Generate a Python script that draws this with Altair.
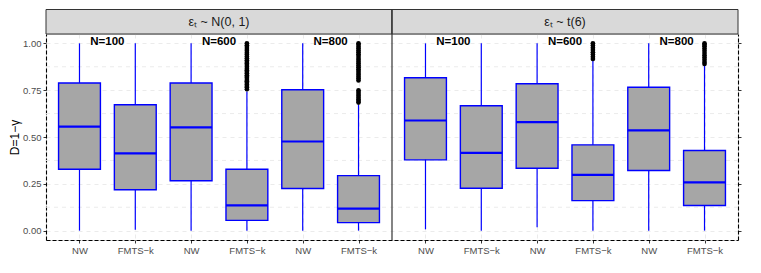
import altair as alt
import pandas as pd

# ---------------- data ----------------
panel_titles = ["εₜ ~ N(0, 1)", "εₜ ~ t(6)"]
methods = ["NW", "FMTS−k", "NW", "FMTS−k", "NW", "FMTS−k"]
sample_sizes = ["100", "100", "600", "600", "800", "800"]
slot = [1, 2, 3, 4, 5, 6]          # category slot inside a panel
panel_shift = [0.0, 6.2]           # slot offset of each panel (ggplot discrete expansion 0.6 on each side)

# panel 1: eps ~ N(0,1)
p1_lo = [0.000, 0.005, 0.000, 0.000, 0.000, 0.000]
p1_q1 = [0.328, 0.218, 0.266, 0.055, 0.225, 0.043]
p1_med = [0.555, 0.413, 0.551, 0.135, 0.476, 0.118]
p1_q3 = [0.788, 0.672, 0.788, 0.328, 0.752, 0.294]
p1_hi = [1.000, 1.000, 1.000, 0.743, 1.000, 0.672]
p1_out_fmts600 = [0.755, 0.765, 0.772, 0.780, 0.790, 0.798, 0.805, 0.815, 0.822,
                  0.830, 0.840, 0.848, 0.856, 0.865, 0.875, 0.884, 0.892, 0.900,
                  0.910, 0.920, 0.930, 0.940, 0.950, 0.960, 0.970, 0.980, 0.990, 1.000]
p1_out_fmts800 = [0.684, 0.692, 0.700, 0.710, 0.720, 0.730, 0.740, 0.749,
                  0.802, 0.812, 0.822, 0.832, 0.842, 0.852, 0.862, 0.872, 0.882,
                  0.892, 0.902, 0.912, 0.922, 0.932, 0.942, 0.952, 0.962, 0.972,
                  0.982, 0.992, 1.000]

# panel 2: eps ~ t(6)
p2_lo = [0.007, 0.000, 0.018, 0.000, 0.000, 0.000]
p2_q1 = [0.378, 0.226, 0.333, 0.160, 0.321, 0.134]
p2_med = [0.588, 0.415, 0.579, 0.298, 0.535, 0.258]
p2_q3 = [0.816, 0.667, 0.784, 0.458, 0.766, 0.428]
p2_hi = [1.000, 1.000, 1.000, 0.910, 1.000, 0.880]
p2_out_fmts600 = [0.917, 0.928, 0.940, 0.952, 0.964, 0.976, 0.988, 1.000]
p2_out_fmts800 = [0.890, 0.900, 0.912, 0.924, 0.936, 0.948, 0.960, 0.972, 0.984, 0.992, 1.000]

n_labels = ["N=100", "N=600", "N=800"]

major_ticks = [0.0, 0.25, 0.5, 0.75, 1.0]
minor_ticks = [0.125, 0.375, 0.625, 0.875]

# ---------------- tables ----------------
box_rows, out_rows, lab_rows, strip_rows = [], [], [], []
panels = [
    (p1_lo, p1_q1, p1_med, p1_q3, p1_hi, {3: p1_out_fmts600, 5: p1_out_fmts800}),
    (p2_lo, p2_q1, p2_med, p2_q3, p2_hi, {3: p2_out_fmts600, 5: p2_out_fmts800}),
]
for p, (lo, q1, med, q3, hi, outs) in enumerate(panels):
    for i in range(6):
        pos = slot[i] + panel_shift[p]
        box_rows.append({"pos": pos, "lo": lo[i], "q1": q1[i], "med": med[i], "q3": q3[i], "hi": hi[i]})
    for i, vals in outs.items():
        for v in vals:
            out_rows.append({"pos": slot[i] + panel_shift[p], "v": v})
    for j in range(3):
        lab_rows.append({"pos": slot[2 * j] + panel_shift[p] + 0.5, "lab": n_labels[j], "y": 1.0})
    strip_rows.append({"a": panel_shift[p] + 0.4, "b": panel_shift[p] + 6.6,
                       "mid": panel_shift[p] + 3.5, "title": panel_titles[p]})

box_df = pd.DataFrame(box_rows)
out_df = pd.DataFrame(out_rows)
lab_df = pd.DataFrame(lab_rows)
strip_df = pd.DataFrame(strip_rows)
minor_df = pd.DataFrame({"v": minor_ticks})
divider_df = pd.DataFrame({"x": [panel_shift[1] + 0.4]})

tick_pos = [s + sh for sh in panel_shift for s in slot]
tick_lab = methods * 2

# ---------------- styling ----------------
W, PH = 692, 206
STRIP = 24.5
FONT = "Liberation Sans"
BLUE = "#0000FF"
FILL = "#A6A6A6"
GRID = "#EBEBEB"
HALF_BOX = 0.375

label_expr = "{" + ",".join(f"'{p}':'{l}'" for p, l in zip(tick_pos, tick_lab)) + "}[''+datum.value]"
label_expr = "[" + ",".join(f"'{l}'" for l in tick_lab) + "][indexof([" + ",".join(str(p) for p in tick_pos) + "], datum.value)]"

xscale = alt.Scale(domain=[0.4, 12.8], nice=False, zero=False)
yscale = alt.Scale(domain=[-0.05, 1.05], nice=False, zero=False)

xaxis = alt.Axis(
    title=None, values=tick_pos, labelExpr=label_expr,
    labelFont=FONT, labelFontSize=9.5, labelColor="#4D4D4D", labelPadding=2,
    tickSize=3, tickColor="#333333", domainColor="#000000", domainDash=[4, 2],
    domainWidth=1.1, grid=True, gridColor=GRID, gridDash=[4, 4], labelAngle=0,
    labelFlush=False, labelOverlap=False,
)
yaxis_left = alt.Axis(
    title="D=1−γ", titleFont=FONT, titleFontSize=12, titleFontWeight="normal",
    titleColor="#000000", titlePadding=1, values=major_ticks, format=".2f",
    labelFont=FONT, labelFontSize=9.5, labelColor="#4D4D4D", labelPadding=2,
    tickSize=3, tickColor="#333333", domainColor="#000000", domainDash=[4, 2],
    domainWidth=1.1, grid=True, gridColor=GRID, gridDash=[4, 4], orient="left",
    labelFlush=False,
)
yaxis_right = alt.Axis(
    title=None, values=major_ticks, labels=False, orient="right",
    tickSize=3, tickColor="#333333", domainColor="#000000", domainDash=[4, 2],
    domainWidth=1.1, grid=False,
)

minor = alt.Chart(minor_df).mark_rule(color=GRID, strokeDash=[4, 4], strokeWidth=1).encode(
    y=alt.Y("v:Q", scale=yscale, axis=yaxis_right)
)
whisk = alt.Chart(box_df).mark_rule(color=BLUE, strokeWidth=1.2).encode(
    x=alt.X("pos:Q", scale=xscale, axis=xaxis),
    y=alt.Y("lo:Q", scale=yscale, axis=yaxis_left), y2="hi:Q"
)
box = alt.Chart(box_df).transform_calculate(
    x0=f"datum.pos - {HALF_BOX}", x1=f"datum.pos + {HALF_BOX}"
).mark_bar(fill=FILL, stroke=BLUE, strokeWidth=1.4).encode(
    x=alt.X("x0:Q", scale=xscale, axis=xaxis), x2="x1:Q",
    y=alt.Y("q1:Q", scale=yscale, axis=None), y2="q3:Q"
)
median = alt.Chart(box_df).transform_calculate(
    x0=f"datum.pos - {HALF_BOX}", x1=f"datum.pos + {HALF_BOX}"
).mark_bar(fill=BLUE, stroke=BLUE, strokeWidth=2.2).encode(
    x=alt.X("x0:Q", scale=xscale, axis=xaxis), x2="x1:Q",
    y=alt.Y("med:Q", scale=yscale, axis=None), y2="med:Q"
)
pts = alt.Chart(out_df).mark_circle(color="#000000", opacity=1, size=22).encode(
    x=alt.X("pos:Q", scale=xscale, axis=xaxis),
    y=alt.Y("v:Q", scale=yscale, axis=None)
)
labs = alt.Chart(lab_df).mark_text(
    font=FONT, fontSize=11.5, fontWeight="bold", color="#000000", baseline="middle",
    align="center", dy=-1
).encode(
    x=alt.X("pos:Q", scale=xscale, axis=xaxis),
    y=alt.Y("y:Q", scale=yscale, axis=None), text="lab:N"
)
strip = alt.Chart(strip_df).mark_rect(fill="#D9D9D9", stroke="#333333", strokeWidth=1).encode(
    x=alt.X("a:Q", scale=xscale, axis=xaxis), x2="b:Q",
    y=alt.value(-STRIP), y2=alt.value(0)
)
strip_text = alt.Chart(strip_df).mark_text(
    font=FONT, fontSize=12.5, color="#1A1A1A", baseline="middle", align="center"
).encode(
    x=alt.X("mid:Q", scale=xscale, axis=xaxis),
    y=alt.value(-STRIP / 2), text="title:N"
)
divider = alt.Chart(divider_df).mark_rule(color="#333333", strokeWidth=1.2).encode(
    x=alt.X("x:Q", scale=xscale, axis=xaxis), y=alt.value(-STRIP), y2=alt.value(PH)
)

chart = (
    alt.layer(minor, whisk, box, median, pts, labs, strip, strip_text, divider)
    .resolve_axis(y="independent")
    .properties(width=W, height=PH, padding={"left": 0, "top": 0, "right": 5, "bottom": 5})
    .configure_view(stroke=None)
    .configure(background="white")
)

chart.save("out.html", embed_options={"renderer": "svg", "actions": False})
